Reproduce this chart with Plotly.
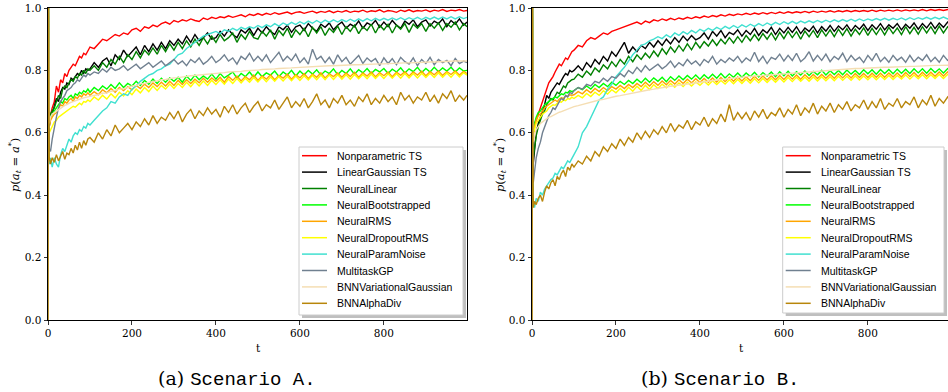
import plotly.graph_objects as go

# ---------------- data ----------------
T = [0, 1, 3, 6] + list(range(10, 100, 5)) + list(range(100, 1000, 10)) + [998]

NAMES = ["Nonparametric TS", "LinearGaussian TS", "NeuralLinear", "NeuralBootstrapped",
         "NeuralRMS", "NeuralDropoutRMS", "NeuralParamNoise", "MultitaskGP",
         "BNNVariationalGaussian", "BNNAlphaDiv"]
COLORS = ["#ff0000", "#000000", "#008000", "#00ff00", "#ffa500", "#ffff00",
          "#40e0d0", "#708090", "#f5deb3", "#b8860b"]

X_TICKS = [0, 200, 400, 600, 800]
Y_TICKS = [0.0, 0.2, 0.4, 0.6, 0.8, 1.0]

# ---- Scenario A ----
A_NONPARAM = [
    0.0, 1.0, 0.64, 0.66, 0.68, 0.7, 0.75, 0.73, 0.77, 0.76, 0.79, 0.78, 0.8, 0.81, 0.82, 0.815, 0.83, 0.845, 0.84, 0.855, 0.85, 0.865,
    0.875, 0.87, 0.885, 0.9, 0.895, 0.905, 0.915, 0.91, 0.92, 0.915,
    0.93, 0.935, 0.925, 0.94, 0.935, 0.945, 0.94, 0.95, 0.955, 0.948,
    0.96, 0.955, 0.962, 0.958, 0.965, 0.96, 0.957, 0.968, 0.963, 0.97,
    0.966, 0.972, 0.969, 0.975, 0.97, 0.974, 0.978, 0.972, 0.98, 0.976,
    0.982, 0.977, 0.983, 0.979, 0.985, 0.98, 0.984, 0.987, 0.981, 0.986,
    0.988, 0.983, 0.987, 0.99, 0.984, 0.989, 0.986, 0.991, 0.985, 0.99,
    0.987, 0.992, 0.986, 0.99, 0.988, 0.993, 0.987, 0.991, 0.989, 0.994,
    0.987, 0.992, 0.99, 0.986, 0.993, 0.989, 0.994, 0.988, 0.992, 0.99,
    0.994, 0.988, 0.993, 0.99, 0.995, 0.989, 0.993, 0.991, 0.995, 0.99,
    0.992]
A_LINGAUSS = [
    0.0, 1.0, 0.62, 0.65, 0.66, 0.69, 0.71, 0.7, 0.73, 0.745, 0.74, 0.76, 0.755, 0.775, 0.77, 0.78, 0.79, 0.785, 0.8, 0.79, 0.805, 0.8,
    0.805, 0.825, 0.81, 0.83, 0.84, 0.815, 0.85, 0.835, 0.865, 0.845,
    0.86, 0.875, 0.85, 0.88, 0.86, 0.885, 0.865, 0.89, 0.87, 0.895,
    0.88, 0.9, 0.885, 0.91, 0.89, 0.915, 0.895, 0.905, 0.92, 0.9,
    0.905, 0.925, 0.91, 0.93, 0.915, 0.905, 0.93, 0.92, 0.935, 0.912,
    0.935, 0.92, 0.94, 0.925, 0.915, 0.94, 0.93, 0.945, 0.922, 0.94,
    0.945, 0.928, 0.95, 0.935, 0.925, 0.948, 0.938, 0.952, 0.93, 0.945,
    0.955, 0.935, 0.948, 0.94, 0.958, 0.935, 0.952, 0.945, 0.96, 0.938,
    0.955, 0.94, 0.96, 0.945, 0.935, 0.958, 0.948, 0.962, 0.94, 0.955,
    0.962, 0.942, 0.958, 0.95, 0.965, 0.94, 0.96, 0.948, 0.965, 0.945,
    0.955]
A_NEURLIN = [
    0.0, 1.0, 0.63, 0.66, 0.67, 0.68, 0.7, 0.72, 0.71, 0.74, 0.75, 0.745, 0.76, 0.77, 0.765, 0.78, 0.775, 0.79, 0.785, 0.8, 0.79, 0.805,
    0.8, 0.815, 0.8, 0.825, 0.81, 0.835, 0.82, 0.845, 0.825, 0.85,
    0.835, 0.86, 0.84, 0.865, 0.85, 0.872, 0.852, 0.88, 0.86, 0.885,
    0.865, 0.89, 0.87, 0.895, 0.875, 0.9, 0.88, 0.905, 0.885, 0.91,
    0.89, 0.915, 0.895, 0.905, 0.92, 0.89, 0.915, 0.9, 0.925, 0.905,
    0.9, 0.925, 0.91, 0.93, 0.9, 0.928, 0.912, 0.935, 0.905, 0.93,
    0.915, 0.935, 0.908, 0.938, 0.92, 0.94, 0.912, 0.935, 0.922, 0.942,
    0.915, 0.94, 0.925, 0.945, 0.918, 0.94, 0.928, 0.948, 0.92, 0.945,
    0.93, 0.948, 0.92, 0.945, 0.932, 0.95, 0.922, 0.948, 0.935, 0.95,
    0.925, 0.95, 0.935, 0.952, 0.928, 0.95, 0.938, 0.955, 0.93, 0.95,
    0.94]
A_BOOT = [
    0.0, 1.0, 0.63, 0.65, 0.66, 0.67, 0.68, 0.69, 0.7, 0.695, 0.71, 0.705, 0.715, 0.72, 0.71, 0.725, 0.72, 0.73, 0.725, 0.735, 0.73, 0.74,
    0.73, 0.745, 0.735, 0.75, 0.74, 0.755, 0.742, 0.76, 0.745, 0.758,
    0.75, 0.765, 0.752, 0.768, 0.756, 0.772, 0.758, 0.775, 0.762, 0.776,
    0.765, 0.778, 0.762, 0.782, 0.768, 0.785, 0.77, 0.782, 0.772, 0.788,
    0.772, 0.79, 0.776, 0.785, 0.795, 0.775, 0.79, 0.78, 0.795, 0.778,
    0.795, 0.78, 0.792, 0.785, 0.798, 0.78, 0.795, 0.785, 0.8, 0.782,
    0.798, 0.785, 0.8, 0.788, 0.802, 0.785, 0.798, 0.79, 0.805, 0.786,
    0.8, 0.79, 0.805, 0.788, 0.802, 0.792, 0.806, 0.79, 0.803, 0.795,
    0.806, 0.79, 0.804, 0.795, 0.808, 0.792, 0.805, 0.796, 0.81, 0.793,
    0.806, 0.795, 0.81, 0.796, 0.808, 0.798, 0.81, 0.795, 0.808, 0.798,
    0.8]
A_RMS = [
    0.0, 1.0, 0.62, 0.64, 0.65, 0.66, 0.665, 0.68, 0.69, 0.685, 0.7, 0.695, 0.705, 0.71, 0.7, 0.715, 0.71, 0.72, 0.715, 0.725, 0.72, 0.728,
    0.72, 0.732, 0.722, 0.738, 0.728, 0.742, 0.73, 0.745, 0.735, 0.748,
    0.738, 0.752, 0.742, 0.756, 0.745, 0.76, 0.748, 0.762, 0.75, 0.765,
    0.752, 0.768, 0.755, 0.77, 0.758, 0.772, 0.76, 0.775, 0.762, 0.776,
    0.765, 0.778, 0.762, 0.78, 0.768, 0.782, 0.766, 0.78, 0.77, 0.785,
    0.768, 0.782, 0.772, 0.786, 0.77, 0.784, 0.775, 0.788, 0.772, 0.786,
    0.776, 0.79, 0.774, 0.788, 0.778, 0.792, 0.776, 0.789, 0.78, 0.792,
    0.778, 0.792, 0.78, 0.794, 0.778, 0.792, 0.782, 0.795, 0.78, 0.793,
    0.783, 0.795, 0.78, 0.794, 0.784, 0.796, 0.782, 0.795, 0.785, 0.797,
    0.783, 0.796, 0.786, 0.798, 0.784, 0.796, 0.787, 0.798, 0.785, 0.797,
    0.79]
A_DROPOUT = [
    0.0, 1.0, 0.6, 0.61, 0.62, 0.635, 0.64, 0.65, 0.655, 0.66, 0.665, 0.672, 0.675, 0.68, 0.685, 0.682, 0.69, 0.695, 0.69, 0.7, 0.698, 0.705,
    0.7, 0.715, 0.705, 0.72, 0.708, 0.725, 0.712, 0.73, 0.718, 0.735,
    0.722, 0.74, 0.728, 0.745, 0.732, 0.75, 0.736, 0.752, 0.74, 0.756,
    0.742, 0.758, 0.745, 0.762, 0.748, 0.764, 0.75, 0.766, 0.752, 0.768,
    0.755, 0.77, 0.756, 0.772, 0.758, 0.774, 0.76, 0.775, 0.762, 0.777,
    0.763, 0.778, 0.764, 0.779, 0.765, 0.78, 0.766, 0.781, 0.767, 0.782,
    0.768, 0.783, 0.769, 0.784, 0.77, 0.785, 0.77, 0.785, 0.771, 0.786,
    0.772, 0.786, 0.772, 0.787, 0.773, 0.787, 0.773, 0.788, 0.774, 0.788,
    0.774, 0.789, 0.775, 0.789, 0.775, 0.79, 0.776, 0.79, 0.776, 0.791,
    0.777, 0.791, 0.777, 0.792, 0.778, 0.792, 0.778, 0.793, 0.779, 0.793,
    0.785]
A_PARAMNOISE = [
    0.0, 1.0, 0.5, 0.52, 0.49, 0.52, 0.5, 0.49, 0.53, 0.55, 0.54, 0.56, 0.58, 0.57, 0.59, 0.6, 0.595, 0.61, 0.605, 0.62, 0.615, 0.63,
    0.625, 0.64, 0.655, 0.67, 0.68, 0.7, 0.695, 0.715, 0.725, 0.72,
    0.74, 0.75, 0.765, 0.775, 0.785, 0.79, 0.8, 0.805, 0.815, 0.82,
    0.835, 0.85, 0.855, 0.87, 0.88, 0.89, 0.9, 0.91, 0.915, 0.92,
    0.925, 0.918, 0.93, 0.925, 0.935, 0.928, 0.938, 0.932, 0.94, 0.935,
    0.944, 0.937, 0.946, 0.94, 0.95, 0.942, 0.952, 0.945, 0.954, 0.947,
    0.956, 0.949, 0.958, 0.951, 0.96, 0.952, 0.961, 0.954, 0.962, 0.955,
    0.963, 0.956, 0.964, 0.957, 0.965, 0.958, 0.966, 0.959, 0.967, 0.96,
    0.967, 0.961, 0.968, 0.962, 0.969, 0.962, 0.969, 0.963, 0.97, 0.963,
    0.97, 0.964, 0.971, 0.964, 0.971, 0.965, 0.972, 0.965, 0.972, 0.966,
    0.97]
A_GP = [
    0.0, 1.0, 0.55, 0.54, 0.58, 0.62, 0.65, 0.68, 0.7, 0.71, 0.72, 0.735, 0.74, 0.745, 0.755, 0.76, 0.77, 0.765, 0.775, 0.785, 0.78, 0.79,
    0.785, 0.795, 0.79, 0.805, 0.795, 0.81, 0.8, 0.805, 0.815, 0.8,
    0.81, 0.82, 0.805, 0.815, 0.825, 0.81, 0.82, 0.83, 0.815, 0.825,
    0.835, 0.82, 0.83, 0.815, 0.835, 0.825, 0.84, 0.82, 0.83, 0.845,
    0.825, 0.835, 0.85, 0.83, 0.84, 0.82, 0.845, 0.835, 0.855, 0.83,
    0.845, 0.83, 0.85, 0.825, 0.84, 0.858, 0.83, 0.845, 0.832, 0.852,
    0.825, 0.84, 0.82, 0.868, 0.835, 0.845, 0.825, 0.842, 0.82, 0.85,
    0.828, 0.842, 0.82, 0.835, 0.848, 0.822, 0.84, 0.828, 0.838, 0.815,
    0.84, 0.822, 0.838, 0.818, 0.842, 0.828, 0.82, 0.84, 0.815, 0.835,
    0.822, 0.842, 0.818, 0.835, 0.825, 0.832, 0.815, 0.838, 0.822, 0.83,
    0.825]
A_VARGAUSS = [
    0.0, 1.0, 0.63, 0.65, 0.66, 0.665, 0.67, 0.675, 0.68, 0.685, 0.688, 0.69, 0.695, 0.698, 0.7, 0.703, 0.705, 0.708, 0.71, 0.712, 0.714, 0.715,
    0.716, 0.72, 0.722, 0.727, 0.728, 0.733, 0.735, 0.74, 0.741, 0.746,
    0.75, 0.752, 0.757, 0.758, 0.762, 0.765, 0.766, 0.77, 0.771, 0.774,
    0.776, 0.777, 0.78, 0.781, 0.783, 0.784, 0.786, 0.787, 0.789, 0.789,
    0.791, 0.792, 0.793, 0.795, 0.795, 0.797, 0.797, 0.799, 0.799, 0.801,
    0.801, 0.803, 0.803, 0.804, 0.805, 0.806, 0.806, 0.808, 0.808, 0.809,
    0.81, 0.81, 0.812, 0.811, 0.813, 0.813, 0.814, 0.815, 0.815, 0.816,
    0.816, 0.817, 0.817, 0.818, 0.818, 0.819, 0.819, 0.82, 0.82, 0.821,
    0.821, 0.822, 0.822, 0.823, 0.823, 0.824, 0.824, 0.825, 0.825, 0.826,
    0.826, 0.827, 0.827, 0.828, 0.828, 0.829, 0.829, 0.83, 0.83, 0.83,
    0.83]
A_ALPHADIV = [
    0.0, 1.0, 0.52, 0.5, 0.52, 0.505, 0.53, 0.51, 0.525, 0.54, 0.515, 0.535, 0.53, 0.55, 0.535, 0.56, 0.545, 0.57, 0.55, 0.575, 0.56, 0.58,
    0.585, 0.57, 0.6, 0.58, 0.61, 0.59, 0.625, 0.6, 0.615, 0.63,
    0.61, 0.635, 0.62, 0.645, 0.625, 0.655, 0.63, 0.65, 0.64, 0.665,
    0.645, 0.67, 0.635, 0.66, 0.675, 0.645, 0.67, 0.655, 0.68, 0.66,
    0.675, 0.65, 0.685, 0.665, 0.69, 0.66, 0.68, 0.695, 0.665, 0.685,
    0.7, 0.67, 0.69, 0.68, 0.705, 0.675, 0.695, 0.715, 0.68, 0.7,
    0.685, 0.71, 0.68, 0.7, 0.725, 0.69, 0.705, 0.68, 0.71, 0.695,
    0.72, 0.69, 0.705, 0.685, 0.715, 0.7, 0.725, 0.69, 0.71, 0.695,
    0.72, 0.7, 0.715, 0.69, 0.73, 0.705, 0.72, 0.695, 0.715, 0.705,
    0.73, 0.7, 0.72, 0.695, 0.725, 0.71, 0.735, 0.7, 0.72, 0.705,
    0.72]

# ---- Scenario B ----
B_NONPARAM = [
    0.0, 1.0, 0.6, 0.63, 0.64, 0.66, 0.68, 0.7, 0.72, 0.74, 0.76, 0.77, 0.78, 0.795, 0.81, 0.82, 0.815, 0.83, 0.84, 0.835, 0.85, 0.86,
    0.865, 0.88, 0.875, 0.895, 0.905, 0.9, 0.91, 0.92, 0.915, 0.925,
    0.93, 0.935, 0.94, 0.945, 0.95, 0.955, 0.948, 0.958, 0.953, 0.962,
    0.958, 0.965, 0.96, 0.967, 0.962, 0.968, 0.964, 0.97, 0.966, 0.972,
    0.968, 0.974, 0.97, 0.976, 0.972, 0.978, 0.974, 0.98, 0.976, 0.981,
    0.978, 0.983, 0.979, 0.984, 0.98, 0.985, 0.981, 0.986, 0.982, 0.987,
    0.983, 0.988, 0.984, 0.988, 0.985, 0.989, 0.985, 0.99, 0.986, 0.99,
    0.987, 0.991, 0.987, 0.991, 0.988, 0.992, 0.988, 0.992, 0.989, 0.992,
    0.989, 0.993, 0.989, 0.993, 0.99, 0.993, 0.99, 0.994, 0.99, 0.994,
    0.991, 0.994, 0.991, 0.995, 0.991, 0.995, 0.992, 0.995, 0.992, 0.995,
    0.993]
B_LINGAUSS = [
    0.0, 1.0, 0.5, 0.54, 0.6, 0.63, 0.65, 0.67, 0.69, 0.72, 0.71, 0.73, 0.74, 0.75, 0.76, 0.755, 0.77, 0.78, 0.79, 0.785, 0.8, 0.795,
    0.8, 0.815, 0.8, 0.825, 0.81, 0.835, 0.82, 0.845, 0.83, 0.86,
    0.845, 0.87, 0.89, 0.855, 0.875, 0.86, 0.88, 0.87, 0.89, 0.875,
    0.895, 0.88, 0.9, 0.885, 0.905, 0.89, 0.91, 0.895, 0.912, 0.898,
    0.905, 0.92, 0.9, 0.925, 0.91, 0.928, 0.905, 0.922, 0.915, 0.93,
    0.91, 0.928, 0.915, 0.935, 0.912, 0.93, 0.92, 0.938, 0.915, 0.935,
    0.92, 0.938, 0.922, 0.94, 0.918, 0.936, 0.925, 0.942, 0.92, 0.94,
    0.926, 0.944, 0.925, 0.942, 0.93, 0.946, 0.926, 0.944, 0.932, 0.948,
    0.928, 0.946, 0.932, 0.95, 0.93, 0.946, 0.935, 0.95, 0.93, 0.948,
    0.935, 0.952, 0.932, 0.95, 0.936, 0.954, 0.934, 0.952, 0.938, 0.955,
    0.945]
B_NEURLIN = [
    0.0, 1.0, 0.52, 0.56, 0.59, 0.62, 0.64, 0.66, 0.67, 0.69, 0.7, 0.71, 0.705, 0.72, 0.73, 0.725, 0.74, 0.75, 0.745, 0.76, 0.765, 0.77,
    0.772, 0.788, 0.778, 0.798, 0.785, 0.808, 0.795, 0.818, 0.805, 0.828,
    0.812, 0.835, 0.82, 0.845, 0.828, 0.85, 0.835, 0.855, 0.84, 0.862,
    0.845, 0.87, 0.852, 0.875, 0.858, 0.88, 0.862, 0.885, 0.866, 0.89,
    0.872, 0.892, 0.878, 0.898, 0.88, 0.9, 0.885, 0.905, 0.888, 0.908,
    0.89, 0.912, 0.895, 0.915, 0.896, 0.918, 0.9, 0.92, 0.898, 0.922,
    0.902, 0.925, 0.905, 0.924, 0.9, 0.926, 0.908, 0.928, 0.905, 0.93,
    0.91, 0.93, 0.908, 0.932, 0.912, 0.934, 0.91, 0.932, 0.915, 0.936,
    0.912, 0.935, 0.915, 0.936, 0.914, 0.938, 0.918, 0.936, 0.915, 0.94,
    0.918, 0.938, 0.916, 0.94, 0.92, 0.94, 0.918, 0.942, 0.92, 0.94,
    0.93]
B_BOOT = [
    0.0, 1.0, 0.6, 0.63, 0.65, 0.665, 0.67, 0.68, 0.69, 0.695, 0.7, 0.705, 0.71, 0.715, 0.712, 0.72, 0.725, 0.722, 0.73, 0.728, 0.735, 0.732,
    0.735, 0.745, 0.738, 0.75, 0.74, 0.755, 0.745, 0.758, 0.748, 0.762,
    0.752, 0.765, 0.755, 0.768, 0.758, 0.772, 0.76, 0.775, 0.762, 0.776,
    0.765, 0.778, 0.764, 0.78, 0.768, 0.782, 0.77, 0.784, 0.772, 0.785,
    0.772, 0.786, 0.774, 0.788, 0.775, 0.79, 0.776, 0.789, 0.778, 0.792,
    0.778, 0.792, 0.78, 0.794, 0.779, 0.793, 0.782, 0.795, 0.78, 0.796,
    0.783, 0.797, 0.782, 0.796, 0.785, 0.798, 0.784, 0.797, 0.786, 0.8,
    0.785, 0.799, 0.787, 0.8, 0.786, 0.801, 0.788, 0.8, 0.787, 0.802,
    0.789, 0.802, 0.788, 0.803, 0.79, 0.803, 0.789, 0.804, 0.791, 0.804,
    0.79, 0.805, 0.792, 0.805, 0.791, 0.806, 0.793, 0.805, 0.792, 0.806,
    0.8]
B_RMS = [
    0.0, 1.0, 0.59, 0.62, 0.64, 0.655, 0.66, 0.67, 0.68, 0.685, 0.69, 0.695, 0.7, 0.705, 0.7, 0.708, 0.712, 0.71, 0.718, 0.716, 0.722, 0.72,
    0.722, 0.732, 0.725, 0.738, 0.728, 0.742, 0.732, 0.745, 0.735, 0.748,
    0.74, 0.752, 0.742, 0.755, 0.745, 0.758, 0.748, 0.762, 0.75, 0.764,
    0.752, 0.766, 0.754, 0.768, 0.756, 0.77, 0.758, 0.772, 0.76, 0.773,
    0.761, 0.774, 0.762, 0.776, 0.763, 0.777, 0.764, 0.778, 0.765, 0.779,
    0.766, 0.78, 0.767, 0.781, 0.768, 0.782, 0.769, 0.783, 0.77, 0.784,
    0.771, 0.785, 0.772, 0.785, 0.772, 0.786, 0.773, 0.787, 0.774, 0.787,
    0.775, 0.788, 0.775, 0.789, 0.776, 0.789, 0.776, 0.79, 0.777, 0.79,
    0.777, 0.791, 0.778, 0.791, 0.778, 0.792, 0.779, 0.792, 0.779, 0.793,
    0.78, 0.793, 0.78, 0.794, 0.781, 0.794, 0.781, 0.795, 0.782, 0.795,
    0.788]
B_DROPOUT = [
    0.0, 1.0, 0.6, 0.61, 0.63, 0.64, 0.65, 0.66, 0.665, 0.67, 0.68, 0.685, 0.69, 0.688, 0.695, 0.7, 0.698, 0.705, 0.703, 0.71, 0.708, 0.714,
    0.71, 0.72, 0.712, 0.726, 0.716, 0.73, 0.72, 0.735, 0.724, 0.738,
    0.728, 0.742, 0.73, 0.746, 0.733, 0.749, 0.736, 0.752, 0.739, 0.754,
    0.742, 0.756, 0.744, 0.758, 0.746, 0.76, 0.748, 0.762, 0.75, 0.763,
    0.752, 0.765, 0.753, 0.767, 0.755, 0.768, 0.756, 0.77, 0.757, 0.771,
    0.758, 0.772, 0.759, 0.773, 0.76, 0.774, 0.761, 0.775, 0.762, 0.776,
    0.763, 0.777, 0.764, 0.778, 0.765, 0.778, 0.765, 0.779, 0.766, 0.78,
    0.767, 0.78, 0.767, 0.781, 0.768, 0.781, 0.768, 0.782, 0.769, 0.782,
    0.77, 0.783, 0.77, 0.783, 0.771, 0.784, 0.771, 0.784, 0.772, 0.785,
    0.772, 0.785, 0.773, 0.786, 0.773, 0.786, 0.774, 0.787, 0.774, 0.787,
    0.78]
B_PARAMNOISE = [
    0.0, 1.0, 0.38, 0.36, 0.39, 0.38, 0.41, 0.4, 0.42, 0.43, 0.44, 0.45, 0.455, 0.47, 0.465, 0.48, 0.49, 0.485, 0.5, 0.51, 0.505, 0.52,
    0.53, 0.555, 0.6, 0.62, 0.65, 0.675, 0.705, 0.715, 0.74, 0.755,
    0.78, 0.795, 0.81, 0.83, 0.85, 0.865, 0.88, 0.885, 0.895, 0.9,
    0.908, 0.902, 0.914, 0.906, 0.92, 0.912, 0.924, 0.916, 0.928, 0.92,
    0.932, 0.925, 0.935, 0.928, 0.938, 0.931, 0.941, 0.934, 0.944, 0.936,
    0.946, 0.939, 0.948, 0.941, 0.95, 0.943, 0.952, 0.945, 0.954, 0.947,
    0.956, 0.949, 0.957, 0.95, 0.958, 0.952, 0.959, 0.953, 0.96, 0.954,
    0.961, 0.955, 0.962, 0.956, 0.963, 0.957, 0.964, 0.958, 0.965, 0.959,
    0.965, 0.96, 0.966, 0.961, 0.967, 0.961, 0.967, 0.962, 0.968, 0.962,
    0.969, 0.963, 0.969, 0.964, 0.97, 0.964, 0.97, 0.965, 0.971, 0.965,
    0.968]
B_GP = [
    0.0, 1.0, 0.44, 0.47, 0.52, 0.55, 0.57, 0.6, 0.62, 0.64, 0.655, 0.665, 0.68, 0.675, 0.69, 0.7, 0.71, 0.705, 0.72, 0.715, 0.73, 0.725,
    0.735, 0.745, 0.74, 0.755, 0.75, 0.765, 0.76, 0.775, 0.765, 0.78,
    0.775, 0.79, 0.78, 0.8, 0.79, 0.81, 0.795, 0.815, 0.8, 0.81,
    0.82, 0.805, 0.815, 0.83, 0.81, 0.825, 0.815, 0.835, 0.82, 0.83,
    0.815, 0.835, 0.825, 0.845, 0.82, 0.835, 0.825, 0.84, 0.83, 0.845,
    0.825, 0.84, 0.83, 0.858, 0.828, 0.845, 0.822, 0.842, 0.835, 0.852,
    0.83, 0.848, 0.832, 0.855, 0.828, 0.84, 0.86, 0.83, 0.848, 0.832,
    0.852, 0.828, 0.845, 0.835, 0.855, 0.828, 0.848, 0.832, 0.842, 0.825,
    0.848, 0.832, 0.855, 0.828, 0.842, 0.826, 0.848, 0.832, 0.842, 0.826,
    0.848, 0.828, 0.842, 0.832, 0.85, 0.828, 0.842, 0.826, 0.848, 0.832,
    0.835]
B_VARGAUSS = [
    0.0, 1.0, 0.57, 0.59, 0.61, 0.62, 0.63, 0.635, 0.64, 0.645, 0.65, 0.652, 0.656, 0.66, 0.663, 0.666, 0.668, 0.671, 0.673, 0.676, 0.678, 0.681,
    0.684, 0.687, 0.691, 0.694, 0.698, 0.701, 0.705, 0.707, 0.711, 0.713,
    0.717, 0.719, 0.722, 0.725, 0.728, 0.73, 0.733, 0.735, 0.738, 0.74,
    0.743, 0.745, 0.747, 0.749, 0.751, 0.753, 0.755, 0.757, 0.759, 0.761,
    0.763, 0.765, 0.766, 0.768, 0.769, 0.771, 0.772, 0.774, 0.775, 0.777,
    0.778, 0.78, 0.781, 0.782, 0.784, 0.785, 0.786, 0.788, 0.789, 0.79,
    0.791, 0.792, 0.793, 0.794, 0.795, 0.796, 0.797, 0.798, 0.799, 0.8,
    0.801, 0.801, 0.802, 0.803, 0.804, 0.804, 0.805, 0.806, 0.806, 0.807,
    0.808, 0.808, 0.809, 0.809, 0.81, 0.81, 0.811, 0.811, 0.812, 0.812,
    0.813, 0.813, 0.814, 0.814, 0.815, 0.815, 0.816, 0.816, 0.817, 0.817,
    0.817]
B_ALPHADIV = [
    0.0, 1.0, 0.36, 0.38, 0.37, 0.39, 0.4, 0.38, 0.41, 0.43, 0.42, 0.44, 0.45, 0.43, 0.46, 0.45, 0.47, 0.48, 0.46, 0.49, 0.48, 0.5,
    0.49, 0.51, 0.5, 0.525, 0.51, 0.54, 0.525, 0.555, 0.54, 0.565,
    0.55, 0.58, 0.56, 0.585, 0.57, 0.6, 0.58, 0.605, 0.585, 0.61,
    0.595, 0.62, 0.6, 0.63, 0.605, 0.625, 0.615, 0.64, 0.61, 0.635,
    0.625, 0.65, 0.62, 0.645, 0.63, 0.66, 0.635, 0.69, 0.64, 0.665,
    0.645, 0.665, 0.64, 0.67, 0.65, 0.675, 0.645, 0.665, 0.655, 0.68,
    0.65, 0.675, 0.66, 0.69, 0.655, 0.68, 0.665, 0.695, 0.66, 0.685,
    0.67, 0.695, 0.665, 0.69, 0.675, 0.7, 0.67, 0.69, 0.68, 0.705,
    0.675, 0.7, 0.68, 0.71, 0.675, 0.695, 0.685, 0.71, 0.68, 0.7,
    0.69, 0.715, 0.68, 0.705, 0.69, 0.72, 0.685, 0.71, 0.695, 0.715,
    0.7]

SCEN_A = [A_NONPARAM, A_LINGAUSS, A_NEURLIN, A_BOOT, A_RMS, A_DROPOUT,
          A_PARAMNOISE, A_GP, A_VARGAUSS, A_ALPHADIV]
SCEN_B = [B_NONPARAM, B_LINGAUSS, B_NEURLIN, B_BOOT, B_RMS, B_DROPOUT,
          B_PARAMNOISE, B_GP, B_VARGAUSS, B_ALPHADIV]

# ---------------- layout helpers ----------------
W, H = 948, 392


def px(x):
    return x / W


def py(y):
    return 1 - y / H


fig = go.Figure()

for series, xa, ya, tag in [(SCEN_A, "x", "y", "A"), (SCEN_B, "x2", "y2", "B")]:
    for vals, name, col in zip(series, NAMES, COLORS):
        assert len(vals) == len(T), (tag, name, len(vals), len(T))
        fig.add_trace(go.Scatter(x=T, y=vals, mode="lines", name=name,
                                 line=dict(color=col, width=1.4),
                                 showlegend=False, xaxis=xa, yaxis=ya,
                                 hoverinfo="skip"))

TICKFONT = dict(family="DejaVu Serif", size=10.5, color="black")
common_x = dict(showgrid=False, zeroline=False, showline=True, linecolor="black",
                linewidth=1, ticks="outside", ticklen=3.5, tickwidth=0.8,
                tickcolor="black", tickvals=X_TICKS, tickfont=TICKFONT,
                automargin=False)
common_y = dict(showgrid=False, zeroline=False, showline=True, linecolor="black",
                linewidth=1, ticks="outside", ticklen=3.5, tickwidth=0.8,
                tickcolor="black", tickvals=Y_TICKS, tickformat=".1f",
                tickfont=TICKFONT, range=[0, 1], automargin=False)

y_dom = [py(320), py(8)]
xr_scale = (467 - 48) / 998.0

fig.update_layout(
    width=W, height=H,
    margin=dict(l=0, r=0, t=0, b=0, pad=0, autoexpand=False),
    paper_bgcolor="white", plot_bgcolor="white",
    hovermode=False,
    xaxis=dict(common_x, domain=[px(48), px(467)], range=[0, 998], mirror=True, anchor="y"),
    yaxis=dict(common_y, domain=y_dom, mirror=True, anchor="x"),
    xaxis2=dict(common_x, domain=[px(532), 1.0], range=[0, (948 - 532) / xr_scale],
                mirror=True, anchor="y2"),
    yaxis2=dict(common_y, domain=y_dom, mirror=False, anchor="x2"),
)

# axis labels and captions
YLABEL = "<i>p</i>(<i>a<sub>t</sub></i> = <i>a</i><sup>*</sup>)"
for tx, lx, capx, cap in [
        (258, 15, 237, '(a) <span style="font-family:Liberation Mono">Scenario A.</span>'),
        (741, 500, 720, '(b) <span style="font-family:Liberation Mono">Scenario B.</span>')]:
    fig.add_annotation(xref="paper", yref="paper", x=px(tx), y=py(348), text="t",
                       showarrow=False, xanchor="center", yanchor="middle",
                       font=dict(family="DejaVu Serif", size=10.5, color="black"))
    fig.add_annotation(xref="paper", yref="paper", x=px(lx), y=py(165), text=YLABEL,
                       textangle=-90, showarrow=False, xanchor="center", yanchor="middle",
                       font=dict(family="DejaVu Serif", size=11.5, color="black"))
    fig.add_annotation(xref="paper", yref="paper", x=px(capx), y=py(379), text=cap,
                       showarrow=False, xanchor="center", yanchor="middle",
                       font=dict(family="DejaVu Serif", size=19, color="black"))


def add_legend(left, top, width, height):
    fig.add_shape(type="rect", xref="paper", yref="paper", layer="above",
                  x0=px(left + 3), x1=px(left + width + 3),
                  y0=py(top + height + 3), y1=py(top + 3),
                  fillcolor="rgba(0,0,0,0.25)", line_width=0)
    fig.add_shape(type="rect", xref="paper", yref="paper", layer="above",
                  x0=px(left), x1=px(left + width), y0=py(top + height), y1=py(top),
                  fillcolor="white", line=dict(color="#cccccc", width=1))
    for i, (name, col) in enumerate(zip(NAMES, COLORS)):
        yy = top + 8.7 + i * 16.4
        fig.add_shape(type="line", xref="paper", yref="paper", layer="above",
                      x0=px(left + 3), x1=px(left + 28), y0=py(yy), y1=py(yy),
                      line=dict(color=col, width=1.5))
        fig.add_annotation(xref="paper", yref="paper", x=px(left + 36), y=py(yy),
                           text=name, showarrow=False, xanchor="left", yanchor="middle",
                           font=dict(family="Liberation Sans", size=10.5, color="black"))


add_legend(299, 147, 164, 168)
add_legend(782.7, 147, 161.3, 166)

fig.write_html("out.html",
               config={"displayModeBar": False, "staticPlot": True},
               post_script="document.body.style.margin='0';document.body.style.overflow='hidden';")
